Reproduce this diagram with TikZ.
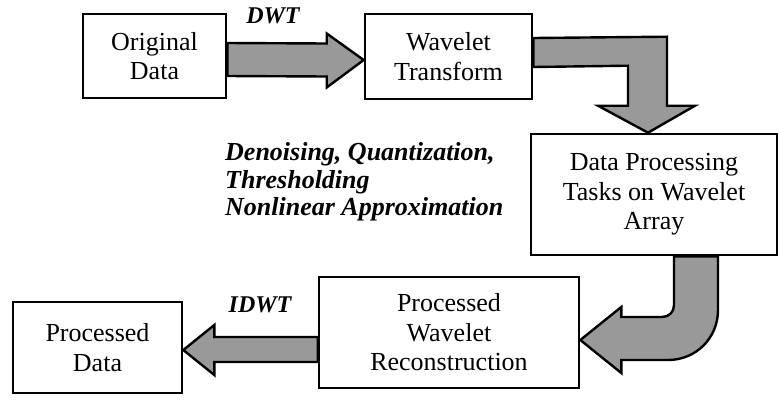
\documentclass[tikz,border=0pt]{standalone}
\usepackage{fontspec}
\setmainfont{Liberation Serif}
\usetikzlibrary{calc}
\newcommand{\boxfont}{\fontsize{26}{29.5}\selectfont}
\newcommand{\labelfont}{\fontsize{24}{27.5}\selectfont\bfseries\itshape}
\newcommand{\taskfont}{\fontsize{26}{27.5}\selectfont\bfseries\itshape}
\tikzset{
  procbox/.style={draw,line width=2.6pt,align=center,inner sep=0pt,font=\boxfont},
  blockarrow/.style={draw,line width=2.4pt,fill=black!40,line join=miter},
  steplabel/.style={font=\labelfont,inner sep=0pt}
}
\begin{document}
\begin{tikzpicture}[x=1pt,y=-1pt]
  \useasboundingbox (0,0) rectangle (780,400);
  % boxes
  \node[procbox,minimum width=143,minimum height=84] (orig) at (154.5,56) {Original\\Data};
  \node[procbox,minimum width=167,minimum height=85] (wt) at (448.5,56.5) {Wavelet\\Transform};
  \node[procbox,minimum width=246,minimum height=121] (dp) at (654,194.5) {Data Processing\\Tasks on Wavelet\\Array};
  \node[procbox,minimum width=260,minimum height=111] (pwr) at (449,332.5) {Processed\\Wavelet\\Reconstruction};
  \node[procbox,minimum width=169,minimum height=91] (pd) at (97.5,347.5) {Processed\\Data};
  % labels
  \node[steplabel] (dwt) at (273,16) {DWT};
  \node[steplabel] (idwt) at (260,305) {IDWT};
  \node[steplabel,font=\taskfont,align=left,anchor=west] (tasks) at (225,182) {Denoising, Quantization,\\Thresholding\\Nonlinear Approximation};
  % block arrows
  \draw[blockarrow] ($(orig.east)+(0,-13)$) -- ($(wt.west)+(-37,-13)$) -- ($(wt.west)+(-37,-23)$)
    -- ($(wt.west)+(0,3.5)$) -- ($(wt.west)+(-37,31)$) -- ($(wt.west)+(-37,20)$) -- ($(orig.east)+(0,20)$) -- cycle;
  \draw[blockarrow] ($(wt.east)+(0,-18.5)$) -- ($(dp.north)+(13,-96)$) -- ($(dp.north)+(13,-27)$)
    -- ($(dp.north)+(41,-27)$) -- ($(dp.north)+(-6,0)$) -- ($(dp.north)+(-56,-27)$)
    -- ($(dp.north)+(-26,-27)$) -- ($(dp.north)+(-26,-67)$) -- ($(wt.east)+(0,10.5)$) -- cycle;
  \draw[blockarrow] ($(dp.south)+(20,0)$) -- (674,305) .. controls (674,312) and (669,317) .. (662,317)
    -- ($(pwr.east)+(41,-15.5)$) -- ($(pwr.east)+(41,-25.5)$) -- ($(pwr.east)+(0,7.5)$)
    -- ($(pwr.east)+(41,40.5)$) -- ($(pwr.east)+(41,27.5)$) -- (668,360)
    .. controls (696,360) and (718,338) .. (718,310) -- ($(dp.south)+(64,0)$) -- cycle;
  \draw[blockarrow] ($(pwr.west)+(0,4.5)$) -- ($(pd.east)+(31,-10.5)$) -- ($(pd.east)+(31,-22.5)$)
    -- ($(pd.east)+(0,2.5)$) -- ($(pd.east)+(31,27.5)$) -- ($(pd.east)+(31,14.5)$) -- ($(pwr.west)+(0,29.5)$) -- cycle;
\end{tikzpicture}
\end{document}
